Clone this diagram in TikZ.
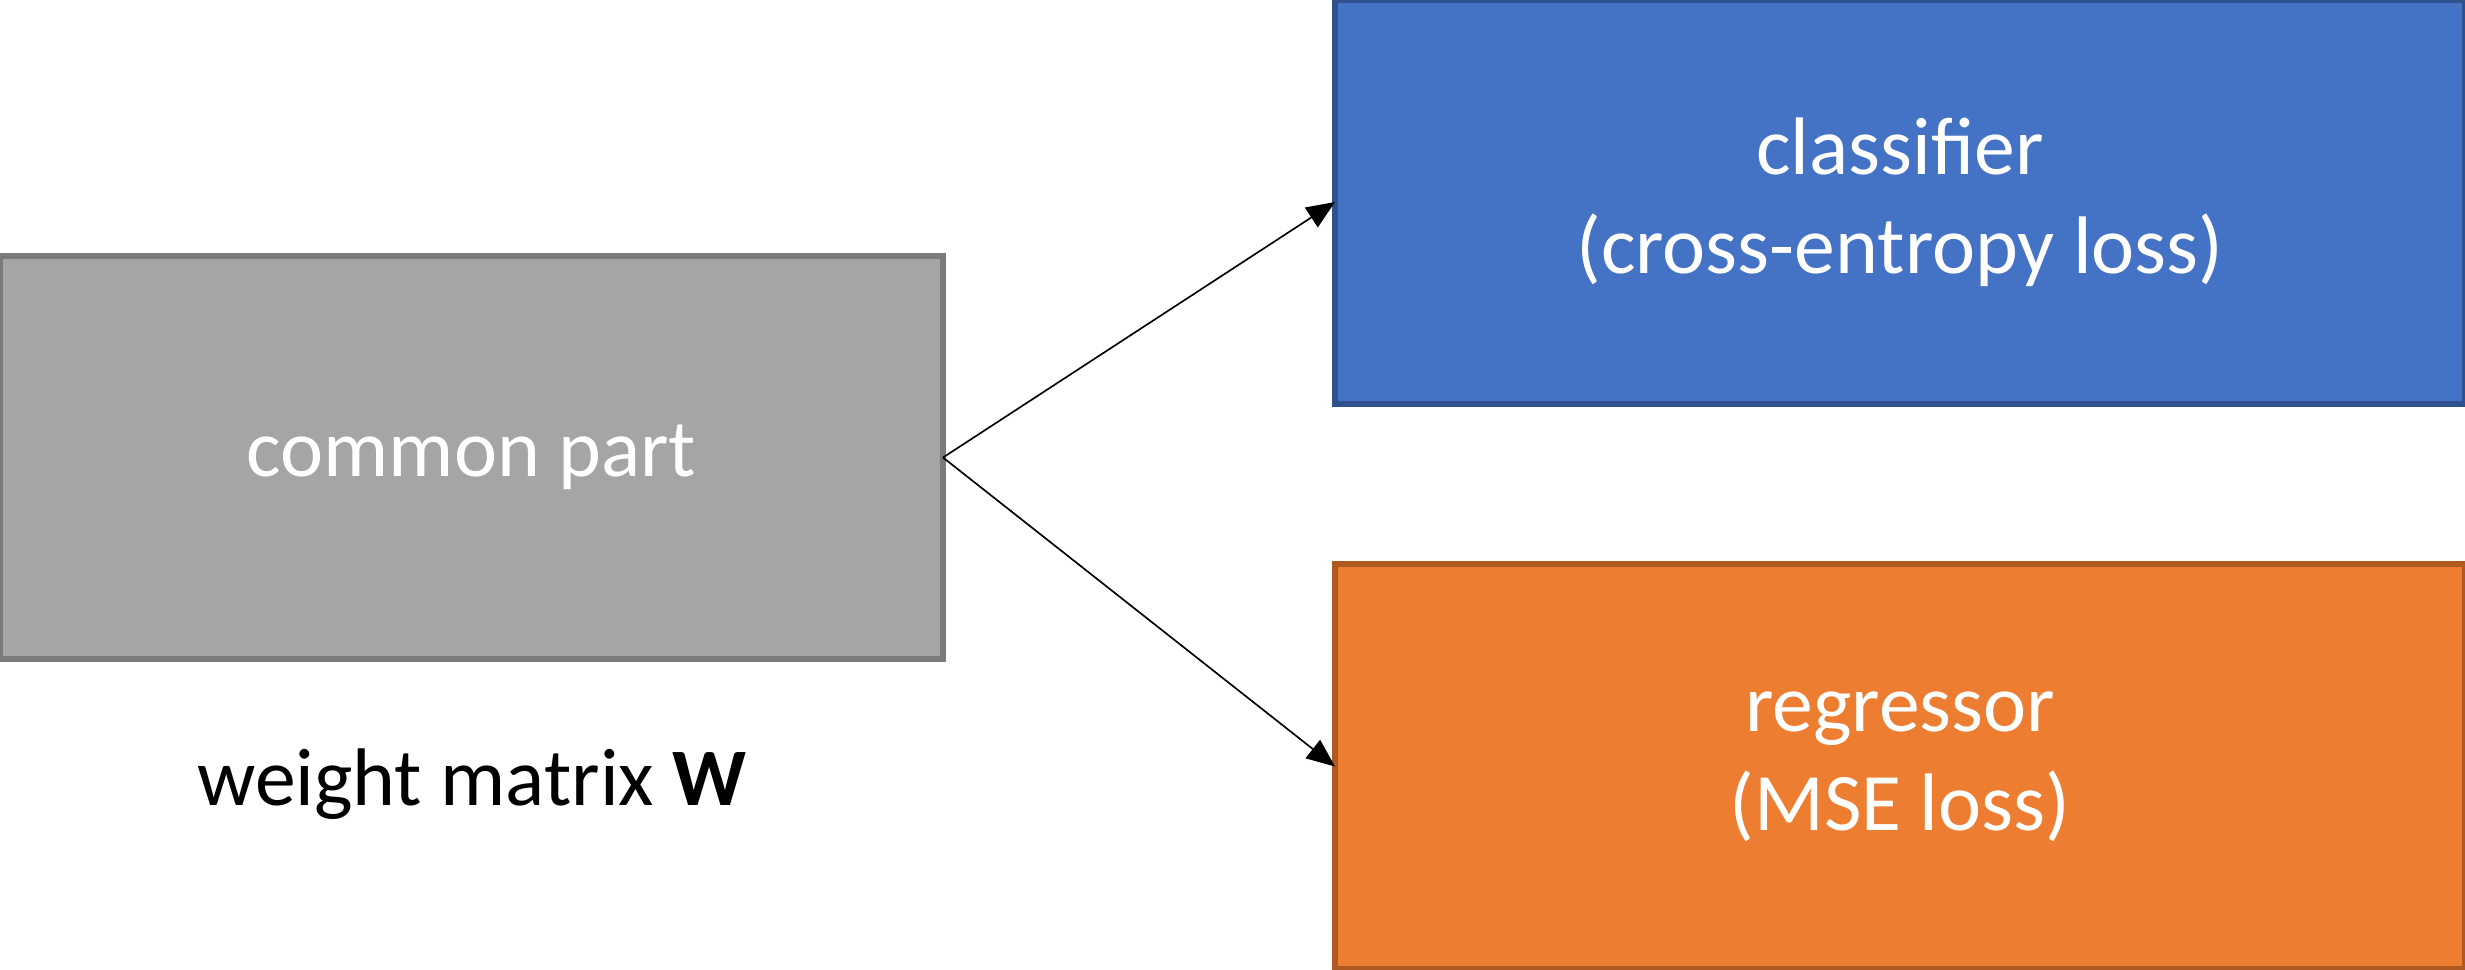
\documentclass[tikz,border=0pt]{standalone}
\usepackage{fontspec}
\setmainfont{Carlito}
\usetikzlibrary{arrows.meta}
\definecolor{grayfill}{HTML}{A5A5A5}
\definecolor{grayline}{HTML}{7A7A7A}
\definecolor{bluefill}{HTML}{4472C4}
\definecolor{blueline}{HTML}{2F528F}
\definecolor{orangefill}{HTML}{ED7D31}
\definecolor{orangeline}{HTML}{AE5A21}
\tikzset{
  box/.style={draw, line width=1.6pt, inner sep=0pt, outer sep=0pt, text=white, align=center,
    font=\fontsize{24.5}{29.7}\selectfont},
  conn/.style={line width=0.5pt, -{Triangle[length=8.5pt,width=7pt]}}
}
\begin{document}
\begin{tikzpicture}[x=0.3pt,y=-0.3pt]
\useasboundingbox (0,0) rectangle (2465,969);
\node[box, fill=grayfill, draw=grayline, minimum width=282.9pt, minimum height=120.9pt] (common) at (471.5,457.5) {common part};
\node[box, fill=bluefill, draw=blueline, minimum width=339pt, minimum height=121.2pt] (cls) at (1900,202) {classifier\\(cross-entropy loss)};
\node[box, fill=orangefill, draw=orangeline, minimum width=339pt, minimum height=121.5pt] (reg) at (1900,766.5) {regressor\\(MSE loss)};
\node[font=\fontsize{24.5}{29.7}\selectfont, inner sep=0pt] (w) at (472,784) {weight matrix \textbf{W}};
\draw[conn] (common.east) -- (cls.west);
\draw[conn] (common.east) -- (reg.west);
\end{tikzpicture}
\end{document}
